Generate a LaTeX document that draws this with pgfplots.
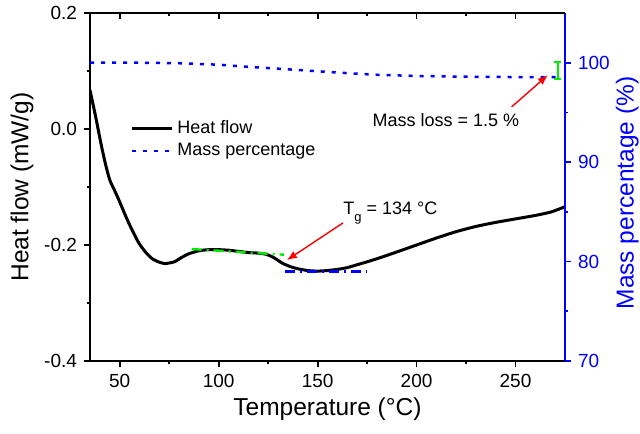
\documentclass[border=0pt]{standalone}
\usepackage{fontspec}
\setmainfont{Liberation Sans}
\usepackage{pgfplots}
\pgfplotsset{compat=1.18}
\usetikzlibrary{arrows.meta}
\definecolor{oblue}{RGB}{0,0,255}
\definecolor{ogreen}{RGB}{0,235,0}
\definecolor{ored}{RGB}{255,0,0}
\pgfplotsset{
  common/.style={scale only axis, width=237.5pt, height=174pt, xmin=35, xmax=275,
    /pgf/number format/assume math mode=true,
    tick style={line width=0.9pt, black},
    major tick length=3pt, minor tick length=1.6pt,
    ticklabel style={font=\fontsize{9.5}{11}\selectfont},
    label style={font=\fontsize{12.25}{14}\selectfont},
    axis line style={line width=0.9pt},
  },
  noarrows/.style={axis line style={-},
    every outer x axis line/.append style={-},
    every outer y axis line/.append style={-},
    every inner x axis line/.append style={-},
    every inner y axis line/.append style={-}},
}
\pgfplotstableread{
T y
35 0.067
37.5 0.027
40.9 -0.031
43 -0.063
45 -0.088
47 -0.103
49.3 -0.120
54.3 -0.160
59.4 -0.195
63 -0.212
66.2 -0.223
69.5 -0.229
72.9 -0.232
77.6 -0.229
81 -0.222
85 -0.215
90 -0.210
95 -0.208
100 -0.208
105 -0.209
110 -0.211
115 -0.213
120 -0.214
124 -0.216
128 -0.222
132 -0.231
136 -0.237
140 -0.241
145 -0.244
150 -0.245
155 -0.244
160 -0.242
165 -0.239
170 -0.234
175 -0.229
181.5 -0.222
190 -0.212
200 -0.200
210 -0.188
220 -0.177
230 -0.168
240 -0.161
250 -0.155
260 -0.149
268 -0.143
275 -0.134
}\heatflow
\pgfplotstableread{
T m
35 100.0
60 100.0
80 99.95
100 99.8
114 99.6
130 99.4
147.6 99.17
165 98.95
181.5 98.77
200 98.67
220 98.6
240 98.57
260 98.55
271 98.55
}\mass
\begin{document}
\begin{tikzpicture}
\useasboundingbox (-45pt,-36pt) rectangle (275pt,180.5pt);
% left axis
\begin{axis}[common,
  ymin=-0.4, ymax=0.2,
  axis y line*=left,
  noarrows,
  xtick pos=left,
  tick align=outside,
  xtick={50,100,...,250}, minor x tick num=1,
  ytick={-0.4,-0.2,0,0.2}, minor y tick num=1,
  yticklabel style={/pgf/number format/.cd, fixed, fixed zerofill, precision=1},
  xlabel={Temperature (°C)},
  xlabel style={at={(axis description cs:0.5,-0.158)}, anchor=base},
  ylabel={Heat flow (mW/g)},
  ylabel style={at={(axis description cs:-0.143,0.5)}, anchor=center},
  legend style={draw=none, fill=none, at={(axis description cs:0.08,0.71)}, anchor=north west,
    font=\fontsize{9}{11}\selectfont, row sep=-0.5pt, inner sep=1pt},
  legend cell align=left,
  legend image code/.code={\draw[#1] (0pt,0pt) -- (20pt,0pt);},
]
\addplot[black, line width=1.5pt, smooth, tension=0.4] table[x=T, y=y] {\heatflow};
\addlegendentry{Heat flow}
\addlegendimage{oblue, line width=1.25pt, dash pattern=on 2pt off 3.5pt}
\addlegendentry{Mass percentage}
% baselines
\addplot[ogreen, line width=1.2pt, dash pattern=on 5pt off 2.5pt on 1pt off 2.5pt] coordinates {(86.4,-0.207) (133,-0.2167)};
\addplot[oblue, line width=1.2pt, dash pattern=on 5pt off 2.5pt on 1pt off 2.5pt] coordinates {(133.5,-0.246) (175,-0.246)};
\draw[ored, line width=0.7pt, -{Latex[length=5pt,width=4pt]}] (axis cs:162.8,-0.162) -- (axis cs:134.5,-0.226);
\node[anchor=base west, inner sep=0pt, font=\fontsize{9}{11}\selectfont] at (axis cs:162.8,-0.148)
  {T\raisebox{-0.75ex}{\fontsize{6.5}{7}\selectfont g} = 134 °C};
\end{axis}
% right axis
\begin{axis}[common,
  ymin=70, ymax=105,
  axis y line*=right, axis x line=none,
  noarrows,
  tick align=outside,
  tick style={oblue},
  axis line style={oblue},
  ytick={70,80,90,100}, minor y tick num=1,
  yticklabel style={oblue},
  ylabel={Mass percentage (\%)},
  ylabel style={oblue, at={(axis description cs:1.131,0.483)}, anchor=center, rotate=0},
]
\addplot[oblue, line width=1.25pt, dash pattern=on 2pt off 3.5pt] table[x=T, y=m] {\mass};
\addplot[ogreen, line width=0.9pt] coordinates {(271.4,98.4) (271.4,100.05)};
\addplot[ogreen, line width=0.9pt] coordinates {(269.6,98.4) (273.2,98.4)};
\addplot[ogreen, line width=0.9pt] coordinates {(269.6,100.05) (273.2,100.05)};
\draw[ored, line width=0.7pt, -{Latex[length=5pt,width=4pt]}] (axis cs:248,95.55) -- (axis cs:266.3,98.75);
\node[anchor=center, inner sep=0pt, font=\fontsize{9}{11}\selectfont] at (axis cs:214.8,94.24) {Mass loss = 1.5 \%};
\end{axis}
% top ticks
\begin{axis}[common,
  ymin=0, ymax=1,
  axis x line*=top, axis y line=none,
  noarrows,
  tick align=inside,
  xtick={50,100,...,250}, minor x tick num=1,
  xticklabels={},
]
\end{axis}
\end{tikzpicture}
\end{document}
